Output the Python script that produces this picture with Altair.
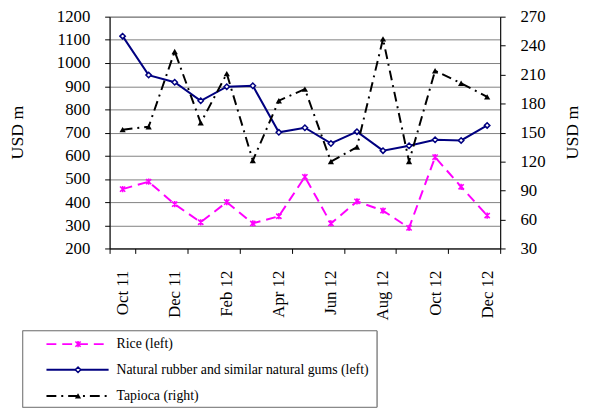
import altair as alt
import pandas as pd

months = ["Oct 11", "Nov 11", "Dec 11", "Jan 12", "Feb 12", "Mar 12", "Apr 12", "May 12",
          "Jun 12", "Jul 12", "Aug 12", "Sep 12", "Oct 12", "Nov 12", "Dec 12"]
rice = [456, 488, 391, 313, 400, 308, 339, 509, 308, 403, 363, 289, 594, 466, 342]
rubber = [1116, 948, 917, 837, 898, 902, 701, 721, 653, 704, 622, 643, 669, 666, 731]
tapioca = [153, 156, 234, 160, 211, 121, 183, 195, 120, 135, 247, 120, 214, 201, 187]
series_names = ["Rice (left)", "Natural rubber and similar natural gums (left)", "Tapioca (right)"]
month_labels = months[::2]
left_ticks = list(range(200, 1300, 100))
right_ticks = list(range(30, 300, 30))

df = pd.DataFrame({"month": months, "rice": rice, "rubber": rubber, "tapioca": tapioca})

FONT = "'Liberation Serif', 'Times New Roman', Times, serif"
MAGENTA = "#FF00FF"
NAVY = "#000080"
STAR = "M-1,-1L1,1M-1,1L1,-1M0,-1.2L0,1.2"
RICE_DASH = [10, 6]
TAP_DASH = [10, 5, 2, 5]

x_enc = alt.X(
    "month:O",
    bandPosition=0.5,
    scale=alt.Scale(type="band", domain=months, paddingInner=0, paddingOuter=0),
    axis=alt.Axis(values=month_labels, title=None, labelAngle=270, tickBand="extent",
                  labelFont=FONT, labelFontSize=17, labelColor="black", tickColor="black",
                  domainColor="black", tickSize=5, labelPadding=17, grid=False),
)

left_scale = alt.Scale(domain=[200, 1200], nice=False, zero=False)
left_axis = alt.Axis(title="USD m", orient="left", values=left_ticks, format="d", grid=True,
                     gridColor="#808080", gridWidth=1, tickSize=5, tickColor="black",
                     domainColor="black", labelFont=FONT, labelFontSize=17, labelColor="black",
                     labelPadding=15, titleFont=FONT, titleFontSize=18, titleFontWeight="normal",
                     titleColor="black", titleAngle=270, titleX=-93, titleY=117,
                     titleAlign="center", titleBaseline="middle")
right_scale = alt.Scale(domain=[30, 270], nice=False, zero=False)
right_axis = alt.Axis(title="USD m", orient="right", values=right_ticks, format="d", grid=False,
                      tickSize=5, tickColor="black", domainColor="black", labelFont=FONT,
                      labelFontSize=17, labelColor="black", labelPadding=15, titleFont=FONT,
                      titleFontSize=18, titleFontWeight="normal", titleColor="black",
                      titleAngle=270, titleX=73, titleY=117, titleAlign="center",
                      titleBaseline="middle")

base = alt.Chart(df).encode(x=x_enc)

rice_line = base.mark_line(color=MAGENTA, strokeWidth=2, strokeDash=RICE_DASH).encode(
    y=alt.Y("rice:Q", scale=left_scale, axis=left_axis))
rice_pts = base.mark_point(shape=STAR, size=28, stroke=MAGENTA, strokeWidth=1.6,
                           filled=False, opacity=1).encode(
    y=alt.Y("rice:Q", scale=left_scale, axis=left_axis))
rub_line = base.mark_line(color=NAVY, strokeWidth=2).encode(
    y=alt.Y("rubber:Q", scale=left_scale, axis=left_axis))
rub_pts = base.mark_point(shape="diamond", size=30, stroke=NAVY, fill="white",
                          fillOpacity=1, strokeWidth=1.5, opacity=1).encode(
    y=alt.Y("rubber:Q", scale=left_scale, axis=left_axis))

left_layer = alt.layer(rice_line, rice_pts, rub_line, rub_pts)

tap_line = base.mark_line(color="black", strokeWidth=2, strokeDash=TAP_DASH).encode(
    y=alt.Y("tapioca:Q", scale=right_scale, axis=right_axis))
tap_pts = base.mark_point(shape="triangle-up", size=40, filled=True, color="black",
                          opacity=1).encode(
    y=alt.Y("tapioca:Q", scale=right_scale, axis=right_axis))
right_layer = alt.layer(tap_line, tap_pts)

# Legend (drawn below the plot)
leg_df = pd.DataFrame({"name": series_names})
box = alt.Chart(leg_df).mark_rect(fill="white", stroke="#808080", strokeWidth=1).encode(
    x=alt.value(-88), x2=alt.value(271), y=alt.value(318.5), y2=alt.value(396))

rows_y = [332, 358, 384.5]
leg_layers = [box]
styles = [
    dict(line=dict(color=MAGENTA, strokeWidth=2, strokeDash=RICE_DASH),
         pt=dict(shape=STAR, size=28, stroke=MAGENTA, strokeWidth=1.6, filled=False, opacity=1)),
    dict(line=dict(color=NAVY, strokeWidth=2),
         pt=dict(shape="diamond", size=30, stroke=NAVY, fill="white", fillOpacity=1,
                 strokeWidth=1.5, opacity=1)),
    dict(line=dict(color="black", strokeWidth=2, strokeDash=TAP_DASH),
         pt=dict(shape="triangle-up", size=40, filled=True, color="black", opacity=1)),
]
for i, name in enumerate(series_names):
    d = pd.DataFrame({"name": [name]})
    c = alt.Chart(d)
    leg_layers.append(c.mark_rule(**styles[i]["line"]).encode(
        x=alt.value(-64), x2=alt.value(-1), y=alt.value(rows_y[i])))
    leg_layers.append(c.mark_point(**styles[i]["pt"]).encode(
        x=alt.value(-32), y=alt.value(rows_y[i])))
    leg_layers.append(c.mark_text(align="left", baseline="middle", font=FONT, fontSize=14,
                                  color="black").encode(
        x=alt.value(7), y=alt.value(rows_y[i]), text="name:N"))

legend_layer = alt.layer(*leg_layers)

chart = alt.layer(left_layer, right_layer, legend_layer).resolve_scale(
    y="independent"
).properties(
    width=396, height=235,
    autosize=alt.AutoSizeParams(type="none"),
    padding={"left": 103, "top": 6, "right": 87, "bottom": 162},
    background="white",
).configure_view(stroke="#808080", strokeWidth=1)

chart.save("out.html", embed_options={"renderer": "svg", "actions": False})
